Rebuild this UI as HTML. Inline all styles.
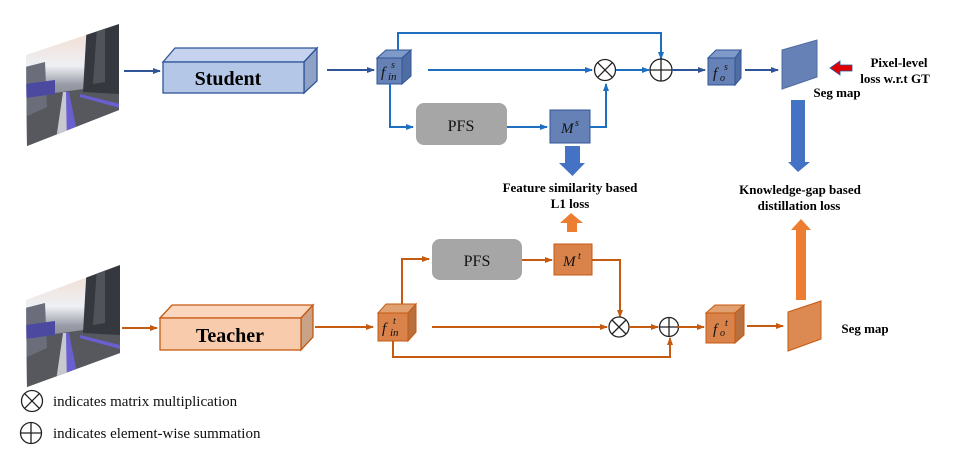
<!DOCTYPE html>
<html><head><meta charset="utf-8"><style>
body{margin:0;background:#fff;}
svg{display:block;}
.b{font-family:"Liberation Serif",serif;font-weight:bold;fill:#000;}
.m{font-family:"Liberation Serif",serif;font-style:italic;fill:#111;}
</style></head><body>
<svg width="954" height="463" viewBox="0 0 954 463" xmlns="http://www.w3.org/2000/svg">
<defs>
<marker id="ab" markerWidth="8" markerHeight="8" refX="7" refY="4" orient="auto" markerUnits="userSpaceOnUse"><path d="M0,1 L8,4 L0,7z" fill="#1f6fc0"/></marker>
<marker id="ad" markerWidth="8" markerHeight="8" refX="7" refY="4" orient="auto" markerUnits="userSpaceOnUse"><path d="M0,1 L8,4 L0,7z" fill="#2f5597"/></marker>
<marker id="ao" markerWidth="8" markerHeight="8" refX="7" refY="4" orient="auto" markerUnits="userSpaceOnUse"><path d="M0,1 L8,4 L0,7z" fill="#c55a11"/></marker>
<linearGradient id="sky" x1="0" y1="0" x2="0" y2="1"><stop offset="0" stop-color="#f3d9c8"/><stop offset="0.35" stop-color="#eef0f4"/><stop offset="0.5" stop-color="#9a9da8"/><stop offset="1" stop-color="#3d3f45"/></linearGradient>
<clipPath id="c1"><polygon points="26,55 119,24 119,110 27,146"/></clipPath>
<clipPath id="c2"><polygon points="26,300 120,265 120,353 27,387"/></clipPath>
<g id="road">
<rect x="0" y="0" width="95" height="125" fill="url(#sky)"/>
<polygon points="0,75 95,62 95,125 0,125" fill="#56585e"/>
<polygon points="0,45 20,40 22,85 0,95" fill="#6b6e7a"/>
<polygon points="0,62 30,58 30,72 0,76" fill="#4b4aa0"/>
<polygon points="62,0 95,0 95,72 58,70" fill="#35383e"/>
<polygon points="72,5 80,0 80,60 68,62" fill="#50535a"/>
<polygon points="30,125 38,70 42,70 46,125" fill="#c8c8d0"/>
<polygon points="42,125 41,70 44,70 55,125" fill="#6a5fd0"/>
<polygon points="55,72 95,82 95,86 55,75" fill="#6a5fd0"/>
</g>
</defs>

<g clip-path="url(#c1)"><use href="#road" x="25" y="22"/></g>
<g clip-path="url(#c2)"><use href="#road" x="25" y="263"/></g>

<!-- Student -->
<line x1="124" y1="71" x2="160" y2="71" stroke="#2f5597" stroke-width="2" marker-end="url(#ad)"/>
<polygon points="163,62 175,48 317,48 304,62" fill="#c5d3ee" stroke="#2f5597" stroke-width="1.3"/>
<polygon points="304,62 317,48 317,81 304,93" fill="#8fa2c6" stroke="#2f5597" stroke-width="1.3"/>
<rect x="163" y="62" width="141" height="31" fill="#b4c7e7" stroke="#2f5597" stroke-width="1.3"/>
<text class="b" x="228" y="85" font-size="20" text-anchor="middle">Student</text>
<line x1="327" y1="70" x2="374" y2="70" stroke="#2f5597" stroke-width="2" marker-end="url(#ad)"/>

<polygon points="377,58 386,50 411,50 402,58" fill="#7f99c8" stroke="#2f5597"/>
<polygon points="402,58 411,50 411,76 402,84" fill="#4f6da3" stroke="#2f5597"/>
<rect x="377" y="58" width="25" height="26" fill="#6581b5" stroke="#2f5597"/>
<text class="m" x="381" y="77" font-size="15">f</text><text class="m" x="391" y="68" font-size="10">s</text><text class="m" x="388" y="80" font-size="11">in</text>

<polyline points="398,50 398,33 661,33 661,59" fill="none" stroke="#1f6fc0" stroke-width="2" marker-end="url(#ab)"/>
<line x1="428" y1="70" x2="592" y2="70" stroke="#1f6fc0" stroke-width="2" marker-end="url(#ab)"/>
<polyline points="390,84 390,127 413,127" fill="none" stroke="#1f6fc0" stroke-width="2" marker-end="url(#ab)"/>
<rect x="416" y="103" width="91" height="42" rx="8" fill="#a6a6a6"/>
<text x="461" y="131" font-size="16" text-anchor="middle" font-family="Liberation Serif,serif" fill="#111">PFS</text>
<line x1="507" y1="127" x2="547" y2="127" stroke="#1f6fc0" stroke-width="2" marker-end="url(#ab)"/>
<rect x="550" y="110" width="40" height="33" fill="#6581b5" stroke="#2f5597"/>
<text class="m" x="561" y="133" font-size="15">M</text><text class="m" x="575" y="126" font-size="10">s</text>
<polyline points="590,127 606,127 606,84" fill="none" stroke="#1f6fc0" stroke-width="2" marker-end="url(#ab)"/>

<circle cx="605" cy="70" r="10.5" fill="#fff" stroke="#222" stroke-width="1.3"/>
<path d="M597.6,62.6 L612.4,77.4 M612.4,62.6 L597.6,77.4" stroke="#222" stroke-width="1.3"/>
<line x1="616" y1="70" x2="649" y2="70" stroke="#1f6fc0" stroke-width="2" marker-end="url(#ab)"/>
<circle cx="661" cy="70" r="11" fill="#fff" stroke="#222" stroke-width="1.3"/>
<path d="M650,70 H672 M661,59 V81" stroke="#222" stroke-width="1.3"/>
<line x1="672" y1="70" x2="705" y2="70" stroke="#2f5597" stroke-width="2" marker-end="url(#ad)"/>

<polygon points="708,58 716,50 741,50 735,58" fill="#7f99c8" stroke="#2f5597"/>
<polygon points="735,58 741,50 741,78 735,85" fill="#4f6da3" stroke="#2f5597"/>
<rect x="708" y="58" width="27" height="27" fill="#6581b5" stroke="#2f5597"/>
<text class="m" x="713" y="78" font-size="15">f</text><text class="m" x="720" y="81" font-size="10">o</text><text class="m" x="724" y="70" font-size="10">s</text>
<line x1="745" y1="70" x2="778" y2="70" stroke="#2f5597" stroke-width="2" marker-end="url(#ad)"/>
<polygon points="782,50 817,40 817,77 782,89" fill="#6581b5" stroke="#4f6da3"/>
<polygon points="830,68 840,61 840,65 852,65 852,71 840,71 840,75" fill="#e00000" stroke="#2f5597" stroke-width="0.8"/>
<text class="b" x="899" y="67" font-size="13" text-anchor="middle">Pixel-level</text>
<text class="b" x="895" y="83" font-size="13" text-anchor="middle">loss w.r.t GT</text>
<text class="b" x="837" y="97" font-size="13" text-anchor="middle">Seg map</text>

<polygon points="565,146 580,146 580,163 585,163 572.5,176 559,163 565,163" fill="#4472c4"/>
<polygon points="571,213 583,223 577,223 577,232 567,232 567,223 560,223" fill="#ed7d31"/>
<text class="b" x="570" y="192" font-size="13" text-anchor="middle">Feature similarity based</text>
<text class="b" x="570" y="208" font-size="13" text-anchor="middle">L1 loss</text>
<polygon points="791,100 805,100 805,162 810,162 798,172 788,162 791,162" fill="#4472c4"/>
<polygon points="801,219 811,230 806,230 806,300 796,300 796,230 791,230" fill="#ed7d31"/>
<text class="b" x="800" y="194" font-size="13" text-anchor="middle">Knowledge-gap based</text>
<text class="b" x="799" y="210" font-size="13" text-anchor="middle">distillation loss</text>

<!-- Teacher -->
<line x1="122" y1="328" x2="157" y2="328" stroke="#c55a11" stroke-width="2" marker-end="url(#ao)"/>
<polygon points="160,318 172,305 313,305 301,318" fill="#f9d6bd" stroke="#c55a11" stroke-width="1.3"/>
<polygon points="301,318 313,305 313,337 301,350" fill="#c9a288" stroke="#c55a11" stroke-width="1.3"/>
<rect x="160" y="318" width="141" height="32" fill="#f8cbad" stroke="#c55a11" stroke-width="1.3"/>
<text class="b" x="230" y="342" font-size="20" text-anchor="middle">Teacher</text>
<line x1="315" y1="327" x2="373" y2="327" stroke="#c55a11" stroke-width="2" marker-end="url(#ao)"/>

<polygon points="378,313 386,304 416,304 408,313" fill="#e0a070" stroke="#c55a11"/>
<polygon points="408,313 416,304 416,332 408,341" fill="#b8703e" stroke="#c55a11"/>
<rect x="378" y="313" width="30" height="28" fill="#d9834a" stroke="#c55a11"/>
<text class="m" x="382" y="333" font-size="15">f</text><text class="m" x="393" y="324" font-size="10">t</text><text class="m" x="390" y="336" font-size="11">in</text>

<polyline points="402,304 402,259 429,259" fill="none" stroke="#c55a11" stroke-width="2" marker-end="url(#ao)"/>
<rect x="432" y="239" width="90" height="41" rx="8" fill="#a6a6a6"/>
<text x="477" y="266" font-size="16" text-anchor="middle" font-family="Liberation Serif,serif" fill="#111">PFS</text>
<line x1="522" y1="260" x2="552" y2="260" stroke="#c55a11" stroke-width="2" marker-end="url(#ao)"/>
<rect x="554" y="244" width="38" height="31" fill="#d9834a" stroke="#c55a11"/>
<text class="m" x="563" y="266" font-size="15">M</text><text class="m" x="578" y="259" font-size="10">t</text>
<polyline points="592,260 620,260 620,317" fill="none" stroke="#c55a11" stroke-width="2" marker-end="url(#ao)"/>

<line x1="432" y1="327" x2="607" y2="327" stroke="#c55a11" stroke-width="2" marker-end="url(#ao)"/>
<circle cx="619" cy="327" r="10" fill="#fff" stroke="#222" stroke-width="1.3"/>
<path d="M612,320 L626,334 M626,320 L612,334" stroke="#222" stroke-width="1.3"/>
<line x1="629" y1="327" x2="658" y2="327" stroke="#c55a11" stroke-width="2" marker-end="url(#ao)"/>
<circle cx="669" cy="327" r="9.5" fill="#fff" stroke="#222" stroke-width="1.3"/>
<path d="M659.5,327 H678.5 M669,317.5 V336.5" stroke="#222" stroke-width="1.3"/>
<polyline points="393,341 393,357 670,357 670,338" fill="none" stroke="#c55a11" stroke-width="2" marker-end="url(#ao)"/>
<line x1="678" y1="327" x2="704" y2="327" stroke="#c55a11" stroke-width="2" marker-end="url(#ao)"/>

<polygon points="706,313 715,305 744,305 735,313" fill="#e0a070" stroke="#c55a11"/>
<polygon points="735,313 744,305 744,335 735,343" fill="#b8703e" stroke="#c55a11"/>
<rect x="706" y="313" width="29" height="30" fill="#d9834a" stroke="#c55a11"/>
<text class="m" x="713" y="334" font-size="15">f</text><text class="m" x="720" y="336" font-size="10">o</text><text class="m" x="725" y="326" font-size="10">t</text>
<line x1="747" y1="326" x2="783" y2="326" stroke="#c55a11" stroke-width="2" marker-end="url(#ao)"/>
<polygon points="788,312 821,301 821,339 788,351" fill="#dc8a52" stroke="#c55a11"/>
<text class="b" x="865" y="333" font-size="13" text-anchor="middle">Seg map</text>

<!-- legend -->
<circle cx="32" cy="401" r="10.5" fill="none" stroke="#222" stroke-width="1.3"/>
<path d="M24.6,393.6 L39.4,408.4 M39.4,393.6 L24.6,408.4" stroke="#222" stroke-width="1.3"/>
<text x="53" y="406" font-size="15" font-family="Liberation Serif,serif" fill="#111">indicates matrix multiplication</text>
<circle cx="31" cy="433" r="10.5" fill="none" stroke="#222" stroke-width="1.3"/>
<path d="M20.5,433 H41.5 M31,422.5 V443.5" stroke="#222" stroke-width="1.3"/>
<text x="53" y="438" font-size="15" font-family="Liberation Serif,serif" fill="#111">indicates element-wise summation</text>
</svg>
</body></html>
